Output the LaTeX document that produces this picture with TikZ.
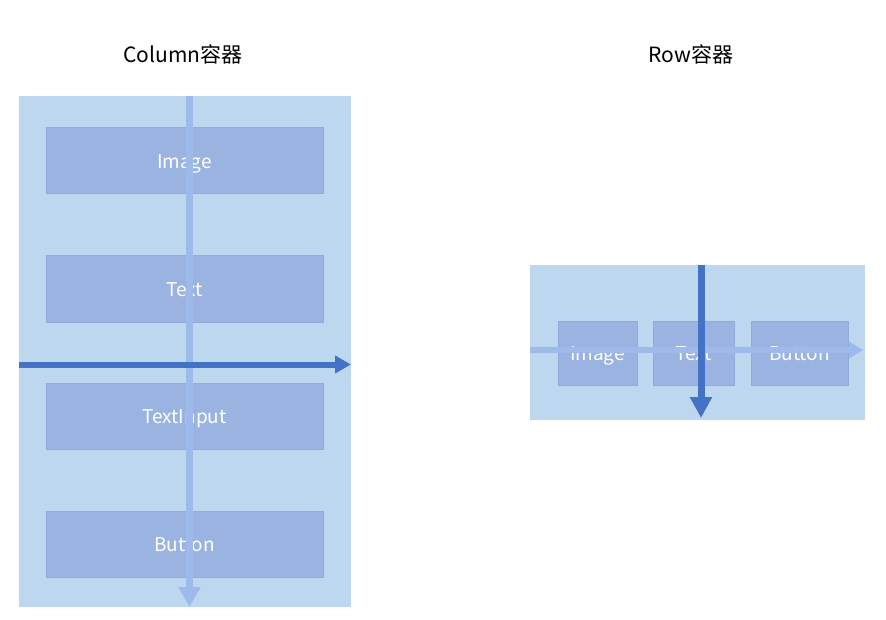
\documentclass[tikz,border=0pt]{standalone}
\usepackage{fontspec}
\setmainfont{Noto Sans CJK SC}
\usetikzlibrary{arrows.meta}
\definecolor{contfill}{HTML}{BDD7EE}
\definecolor{boxfill}{HTML}{9AB3E0}
\definecolor{boxline}{HTML}{8FAADC}
\definecolor{lightarrow}{HTML}{9DBAEA}
\definecolor{darkarrow}{HTML}{4472C4}
\tikzset{
  container/.style={fill=contfill, draw=none, inner sep=0, outer sep=0},
  itembox/.style={fill=boxfill, draw=boxline, line width=1pt, inner sep=0, outer sep=0, text=white, font=\fontsize{19}{21}\selectfont, text height=15pt, text depth=0pt},
  title/.style={font=\fontsize{21}{24}\selectfont, text=black},
  lightarr/.style={draw=lightarrow, line width=7pt, -{Triangle[length=20pt,width=21pt]}},
  darkarr/.style={draw=darkarrow, line width=6pt, -{Triangle[length=16pt,width=17pt]}},
  lightarrrow/.style={draw=lightarrow, line width=6pt, -{Triangle[length=14pt,width=16pt]}},
  darkarrrow/.style={draw=darkarrow, line width=7pt, -{Triangle[length=21pt,width=21pt]}},
}
\begin{document}
\begin{tikzpicture}[x=1pt,y=-1pt]
\useasboundingbox (0,0) rectangle (886,620);
% titles
\node[title] (t1) at (183,54) {Column容器};
\node[title] (t2) at (691,54) {Row容器};
% column container
\node[container, minimum width=332pt, minimum height=511pt] (col) at (185,351.5) {};
\node[itembox, minimum width=277pt, minimum height=66pt] (c1) at (184.5,161) {Image};
\node[itembox, minimum width=277pt, minimum height=66pt] (c2) at (184.5,289) {Text};
\node[itembox, minimum width=277pt, minimum height=66pt] (c3) at (184.5,416) {TextInput};
\node[itembox, minimum width=277pt, minimum height=66pt] (c4) at (184.5,544) {Button};
\coordinate (cvs) at (189.5,96);
\coordinate (cve) at (189.5,607);
\coordinate (chs) at (19,364.5);
\coordinate (che) at (351,364.5);
\draw[lightarr] (cvs) -- (cve);
\draw[darkarr] (chs) -- (che);
% row container
\node[container, minimum width=335pt, minimum height=155pt] (row) at (697.5,342.5) {};
\node[itembox, minimum width=79pt, minimum height=64pt] (r1) at (597.5,353) {Image};
\node[itembox, minimum width=81pt, minimum height=64pt] (r2) at (693.5,353) {Text};
\node[itembox, minimum width=97pt, minimum height=64pt] (r3) at (799.5,353) {Button};
\coordinate (rhs) at (530,350);
\coordinate (rhe) at (863,350);
\coordinate (rvs) at (701,265);
\coordinate (rve) at (701,418);
\draw[lightarrrow] (rhs) -- (rhe);
\draw[darkarrrow] (rvs) -- (rve);
\end{tikzpicture}
\end{document}
